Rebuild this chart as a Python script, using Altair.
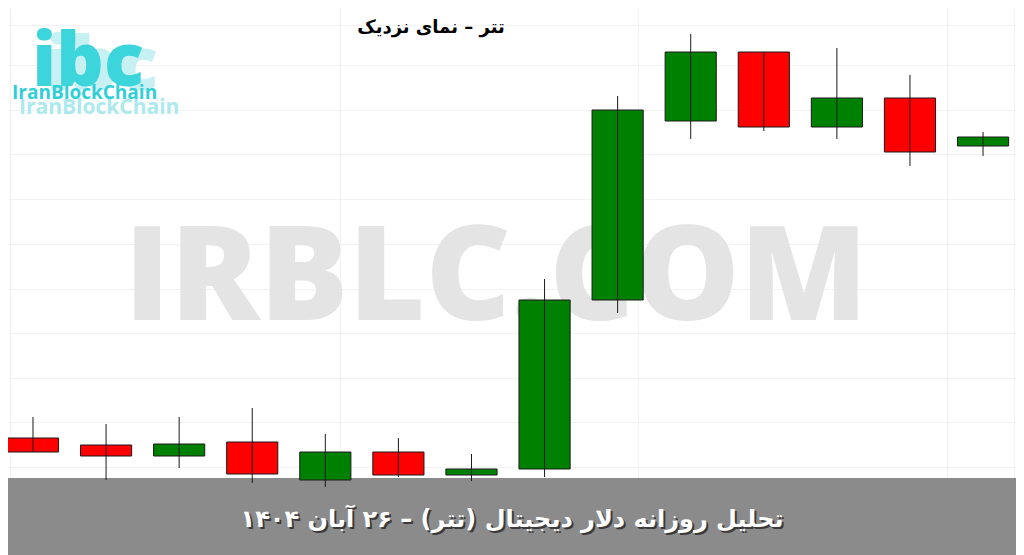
import altair as alt
import pandas as pd

# ---- data (relative price units) ----
days = ["۱۳ آبان", "۱۴ آبان", "۱۵ آبان", "۱۶ آبان", "۱۷ آبان", "۱۸ آبان", "۱۹ آبان",
        "۲۰ آبان", "۲۱ آبان", "۲۲ آبان", "۲۳ آبان", "۲۴ آبان", "۲۵ آبان", "۲۶ آبان"]
opens = [62, 55, 44, 58, 20, 48, 25, 31, 200, 379, 448, 373, 402, 354]
highs = [83, 76, 83, 92, 66, 62, 46, 221, 404, 466, 448, 452, 425, 368]
lows = [48, 20, 32, 17, 13, 23, 19, 23, 187, 361, 369, 361, 334, 344]
closes = [48, 44, 56, 26, 48, 25, 31, 200, 390, 448, 373, 402, 348, 363]

h_grid = [475, 435, 390, 346, 301, 256, 211, 167, 122, 78, 33]
v_grid = [-0.315, 4.2, 8.28, 12.5, 13.42]

title_text = "تتر – نمای نزدیک"
footer_text = "تحلیل روزانه دلار دیجیتال (تتر) – ۲۶ آبان ۱۴۰۴"
watermark_text = "IRBLC.COM"
logo_text = "ibc"
brand_text = "IranBlockChain"

W, H = 1008, 547

df = pd.DataFrame({"day": days, "open": opens, "high": highs, "low": lows, "close": closes})
df["idx"] = range(len(df))

xscale = alt.Scale(domain=[-0.342, 13.451], nice=False, zero=False)
yscale = alt.Scale(domain=[-55, 492], nice=False, zero=False)
xaxis = alt.Axis(title=None, labels=False, ticks=False, domain=False, grid=True,
                 values=v_grid, gridColor="#f2f2f2", gridWidth=1)
yaxis = alt.Axis(title=None, labels=False, ticks=False, domain=False, grid=True,
                 values=h_grid, gridColor="#f2f2f2", gridWidth=1)

base = alt.Chart(df)

bodies = base.transform_calculate(
    lo="datum.idx - 0.35", hi="datum.idx + 0.35"
).mark_bar(stroke="#1a1a1a", strokeWidth=1).encode(
    x=alt.X("lo:Q", scale=xscale, axis=xaxis),
    x2="hi:Q",
    y=alt.Y("open:Q", scale=yscale, axis=yaxis),
    y2="close:Q",
    color=alt.condition(alt.datum.close >= alt.datum.open, alt.value("#008000"), alt.value("#ff0000")),
)

wicks = base.mark_rule(color="#1a1a1a", strokeWidth=1).encode(
    x=alt.X("idx:Q", scale=xscale),
    y=alt.Y("low:Q", scale=yscale),
    y2="high:Q",
)


def one(s):
    return pd.DataFrame({"t": [s]})


band = alt.Chart(one("")).mark_rect(color="#8b8b8b").encode(
    x=alt.value(0), x2=alt.value(W), y=alt.value(470), y2=alt.value(H)
)

watermark = alt.Chart(one(watermark_text)).mark_text(
    font="Open Sans", fontWeight=800, fontSize=132, color="#e4e4e4",
    align="center", baseline="middle"
).encode(text="t:N", x=alt.value(488), y=alt.value(272))

logo_ghost = alt.Chart(one(logo_text)).mark_text(
    font="Open Sans", fontWeight=800, fontSize=74, color="#c6f0f2",
    align="center", baseline="alphabetic"
).encode(text="t:N", x=alt.value(94), y=alt.value(82))

logo_main = alt.Chart(one(logo_text)).mark_text(
    font="Open Sans", fontWeight=800, fontSize=74, color="#3dd5dc",
    align="center", baseline="alphabetic"
).encode(text="t:N", x=alt.value(80), y=alt.value(78))

brand_ghost = alt.Chart(one(brand_text)).mark_text(
    font="Open Sans", fontWeight="bold", fontSize=21, color="#ace9ed",
    align="left", baseline="middle"
).encode(text="t:N", x=alt.value(11), y=alt.value(100))

brand_main = alt.Chart(one(brand_text)).mark_text(
    font="Open Sans", fontWeight="bold", fontSize=19, color="#30cfd7",
    align="left", baseline="middle"
).encode(text="t:N", x=alt.value(4), y=alt.value(85))

title = alt.Chart(one(title_text)).mark_text(
    font="DejaVu Sans", fontWeight="bold", fontSize=18, color="#000000",
    align="center", baseline="middle"
).encode(text="t:N", x=alt.value(423), y=alt.value(20))

footer_shadow = alt.Chart(one(footer_text)).mark_text(
    font="DejaVu Sans", fontWeight="bold", fontSize=24, color="#3a3a3a",
    align="center", baseline="middle"
).encode(text="t:N", x=alt.value(506), y=alt.value(514))

footer = alt.Chart(one(footer_text)).mark_text(
    font="DejaVu Sans", fontWeight="bold", fontSize=24, color="#ffffff",
    align="center", baseline="middle"
).encode(text="t:N", x=alt.value(504), y=alt.value(512))

chart = alt.layer(
    band, watermark, logo_ghost, logo_main, brand_ghost, brand_main, title,
    bodies, wicks, footer_shadow, footer
).properties(
    width=W, height=H, padding=0,
    autosize=alt.AutoSizeParams(type="none"),
    background="#ffffff",
).configure_view(stroke=None)

chart.save("out.html", embed_options={"renderer": "svg", "actions": False})
